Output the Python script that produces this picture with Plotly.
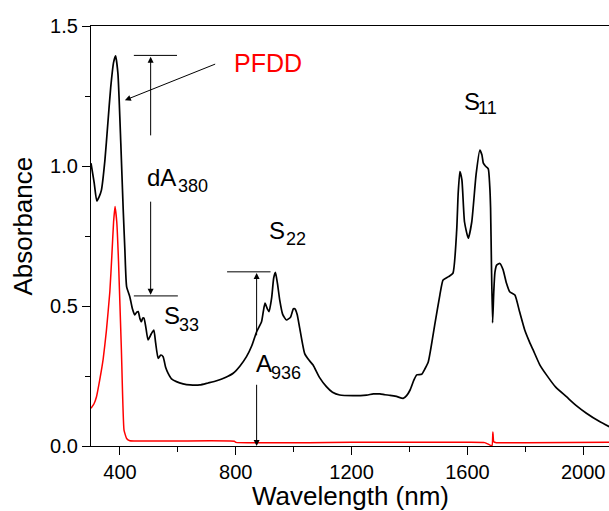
import plotly.graph_objects as go

# ---- data ----
swnt_wl = [300, 311, 320, 328, 336, 348, 358, 368, 378, 385, 393, 403, 411, 417, 423, 434, 443, 451, 458, 463,
           469, 474, 479, 483, 490, 497, 508, 517, 523, 532, 541, 549, 558, 566, 578, 595, 618, 642, 676, 704,
           734, 764, 791, 814, 837, 856, 872, 889, 895, 901, 909, 915, 924, 931, 937, 944, 952, 962, 975, 989,
           999, 1004, 1012, 1021, 1038, 1054, 1067, 1089, 1113, 1134, 1159, 1205, 1252, 1275, 1298, 1315, 1333,
           1355, 1378, 1390, 1402, 1415, 1425, 1442, 1453, 1465, 1488, 1505, 1516, 1535, 1550, 1563, 1568, 1574,
           1581, 1590, 1603, 1615, 1630, 1643, 1650, 1655, 1662, 1672, 1677, 1680, 1683, 1687, 1691, 1695, 1701,
           1712, 1723, 1735, 1746, 1764, 1780, 1798, 1815, 1827, 1850, 1873, 1905, 1942, 1975, 2011, 2055, 2090]
swnt_abs = [1.01, 0.94, 0.875, 0.89, 0.914, 1.02, 1.15, 1.28, 1.37, 1.393, 1.33, 1.08, 0.85, 0.70, 0.569, 0.533,
            0.49, 0.468, 0.478, 0.48, 0.455, 0.444, 0.457, 0.457, 0.42, 0.379, 0.40, 0.414, 0.37, 0.313, 0.325,
            0.319, 0.28, 0.26, 0.24, 0.23, 0.222, 0.218, 0.218, 0.225, 0.233, 0.245, 0.26, 0.285, 0.319, 0.36,
            0.408, 0.444, 0.48, 0.51, 0.49, 0.48, 0.53, 0.60, 0.62, 0.58, 0.52, 0.47, 0.45, 0.46, 0.49, 0.49,
            0.47, 0.42, 0.33, 0.305, 0.289, 0.245, 0.212, 0.192, 0.182, 0.180, 0.182, 0.186, 0.186, 0.183, 0.181,
            0.177, 0.17, 0.18, 0.2, 0.235, 0.254, 0.256, 0.275, 0.301, 0.438, 0.54, 0.593, 0.605, 0.617, 0.771,
            0.9, 0.98, 0.95, 0.80, 0.742, 0.80, 0.97, 1.057, 1.04, 1.01, 1.00, 0.99, 0.93, 0.85, 0.65, 0.44, 0.55,
            0.62, 0.646, 0.652, 0.63, 0.581, 0.551, 0.539, 0.48, 0.414, 0.37, 0.343, 0.29, 0.254, 0.21, 0.176,
            0.145, 0.117, 0.088, 0.069]

pfdd_wl = [300, 310, 319, 330, 342, 353, 365, 372, 378, 383, 389, 395, 405, 414, 423, 434, 450, 600, 795, 800,
           1200, 1600, 1660, 1675, 1685, 1688, 1691, 1700, 1800, 2090]
pfdd_abs = [0.135, 0.15, 0.176, 0.235, 0.31, 0.41, 0.55, 0.68, 0.80, 0.855, 0.80, 0.66, 0.343, 0.057, 0.027,
            0.019, 0.018, 0.018, 0.017, 0.013, 0.013, 0.013, 0.012, 0.005, 0.001, 0.05, 0.015, 0.012, 0.012, 0.013]

x_ticks = [400, 800, 1200, 1600, 2000]
y_ticks = [0.0, 0.5, 1.0, 1.5]

FONT = "Liberation Sans, Arial, sans-serif"

fig = go.Figure()
fig.add_trace(go.Scatter(x=swnt_wl, y=swnt_abs, mode="lines",
                         line=dict(color="black", width=1.7, shape="spline", smoothing=0.5),
                         showlegend=False, hoverinfo="skip"))
fig.add_trace(go.Scatter(x=pfdd_wl, y=pfdd_abs, mode="lines",
                         line=dict(color="red", width=1.5, shape="spline", smoothing=0.4),
                         showlegend=False, hoverinfo="skip"))

annotations = []

def label(main, sub, x, y, xs, ys, color="black", size=24, subsize=18):
    annotations.append(dict(x=x, y=y, xref="x", yref="y", text=main, showarrow=False,
                            xanchor="left", yanchor="middle",
                            font=dict(family=FONT, size=size, color=color)))
    if sub:
        annotations.append(dict(x=xs, y=ys, xref="x", yref="y", text=sub, showarrow=False,
                                xanchor="left", yanchor="middle",
                                font=dict(family=FONT, size=subsize, color=color)))

label("dA", "380", 488, 0.958, 593, 0.928)
label("S", "33", 546, 0.4675, 597, 0.432)
label("S", "22", 908, 0.77, 967, 0.739)
label("A", "936", 863, 0.296, 915, 0.26)
label("S", "11", 1580, 1.229, 1629, 1.206)
label("PFDD", None, 787, 1.369, 0, 0, color="red", size=25)

def arrow(x0, y0, x1, y1):
    annotations.append(dict(x=x1, y=y1, ax=x0, ay=y0, xref="x", yref="y", axref="x", ayref="y",
                            text="", showarrow=True, arrowhead=2, arrowsize=1.2, arrowwidth=1,
                            arrowcolor="black", standoff=0, startstandoff=0))

arrow(506, 1.104, 506, 1.39)
arrow(506, 0.878, 506, 0.54)
arrow(734, 1.366, 417, 1.235)
arrow(872, 0.39, 872, 0.618)
arrow(872, 0.224, 872, 0.0)

shapes = [
    dict(type="line", xref="x", yref="y", x0=448, x1=597, y0=1.395, y1=1.395, line=dict(color="black", width=1)),
    dict(type="line", xref="x", yref="y", x0=448, x1=600, y0=0.536, y1=0.536, line=dict(color="black", width=1)),
    dict(type="line", xref="x", yref="y", x0=770, x1=920, y0=0.622, y1=0.622, line=dict(color="black", width=1)),
]

annotations.append(dict(x=0.5, y=-0.118, xref="paper", yref="paper", text="Wavelength (nm)",
                        showarrow=False, xanchor="center", yanchor="middle",
                        font=dict(family=FONT, size=26, color="black")))
annotations.append(dict(x=-0.132, y=0.524, xref="paper", yref="paper", text="Absorbance",
                        showarrow=False, xanchor="center", yanchor="middle", textangle=-90,
                        font=dict(family=FONT, size=26, color="black")))

fig.update_layout(
    width=609, height=511,
    margin=dict(l=91, r=0, t=26, b=65, autoexpand=False),
    paper_bgcolor="white", plot_bgcolor="white",
    font=dict(family=FONT, size=20, color="black"),
    annotations=annotations, shapes=shapes,
    xaxis=dict(range=[300, 2089], tickvals=x_ticks, ticktext=[str(v) for v in x_ticks],
               showline=True, linecolor="black", linewidth=1.3, mirror=True, automargin=False,
               ticks="outside", ticklen=8, tickwidth=1.3, tickcolor="black",
               minor=dict(dtick=200, tick0=0, ticks="outside", ticklen=5, tickwidth=1.3, tickcolor="black"),
               showgrid=False, zeroline=False, tickfont=dict(family=FONT, size=20, color="black")),
    yaxis=dict(range=[0, 1.5], tickvals=y_ticks, ticktext=["%.1f" % v for v in y_ticks],
               showline=True, linecolor="black", linewidth=1.3, automargin=False,
               ticks="outside", ticklen=8, tickwidth=1.3, tickcolor="black",
               minor=dict(dtick=0.25, tick0=0, ticks="outside", ticklen=5, tickwidth=1.3, tickcolor="black"),
               showgrid=False, zeroline=False, tickfont=dict(family=FONT, size=20, color="black")),
)

fig.write_html("out.html", config={"displayModeBar": False},
               post_script="document.body.style.margin='0';document.body.style.padding='0';document.body.style.overflow='hidden';")
